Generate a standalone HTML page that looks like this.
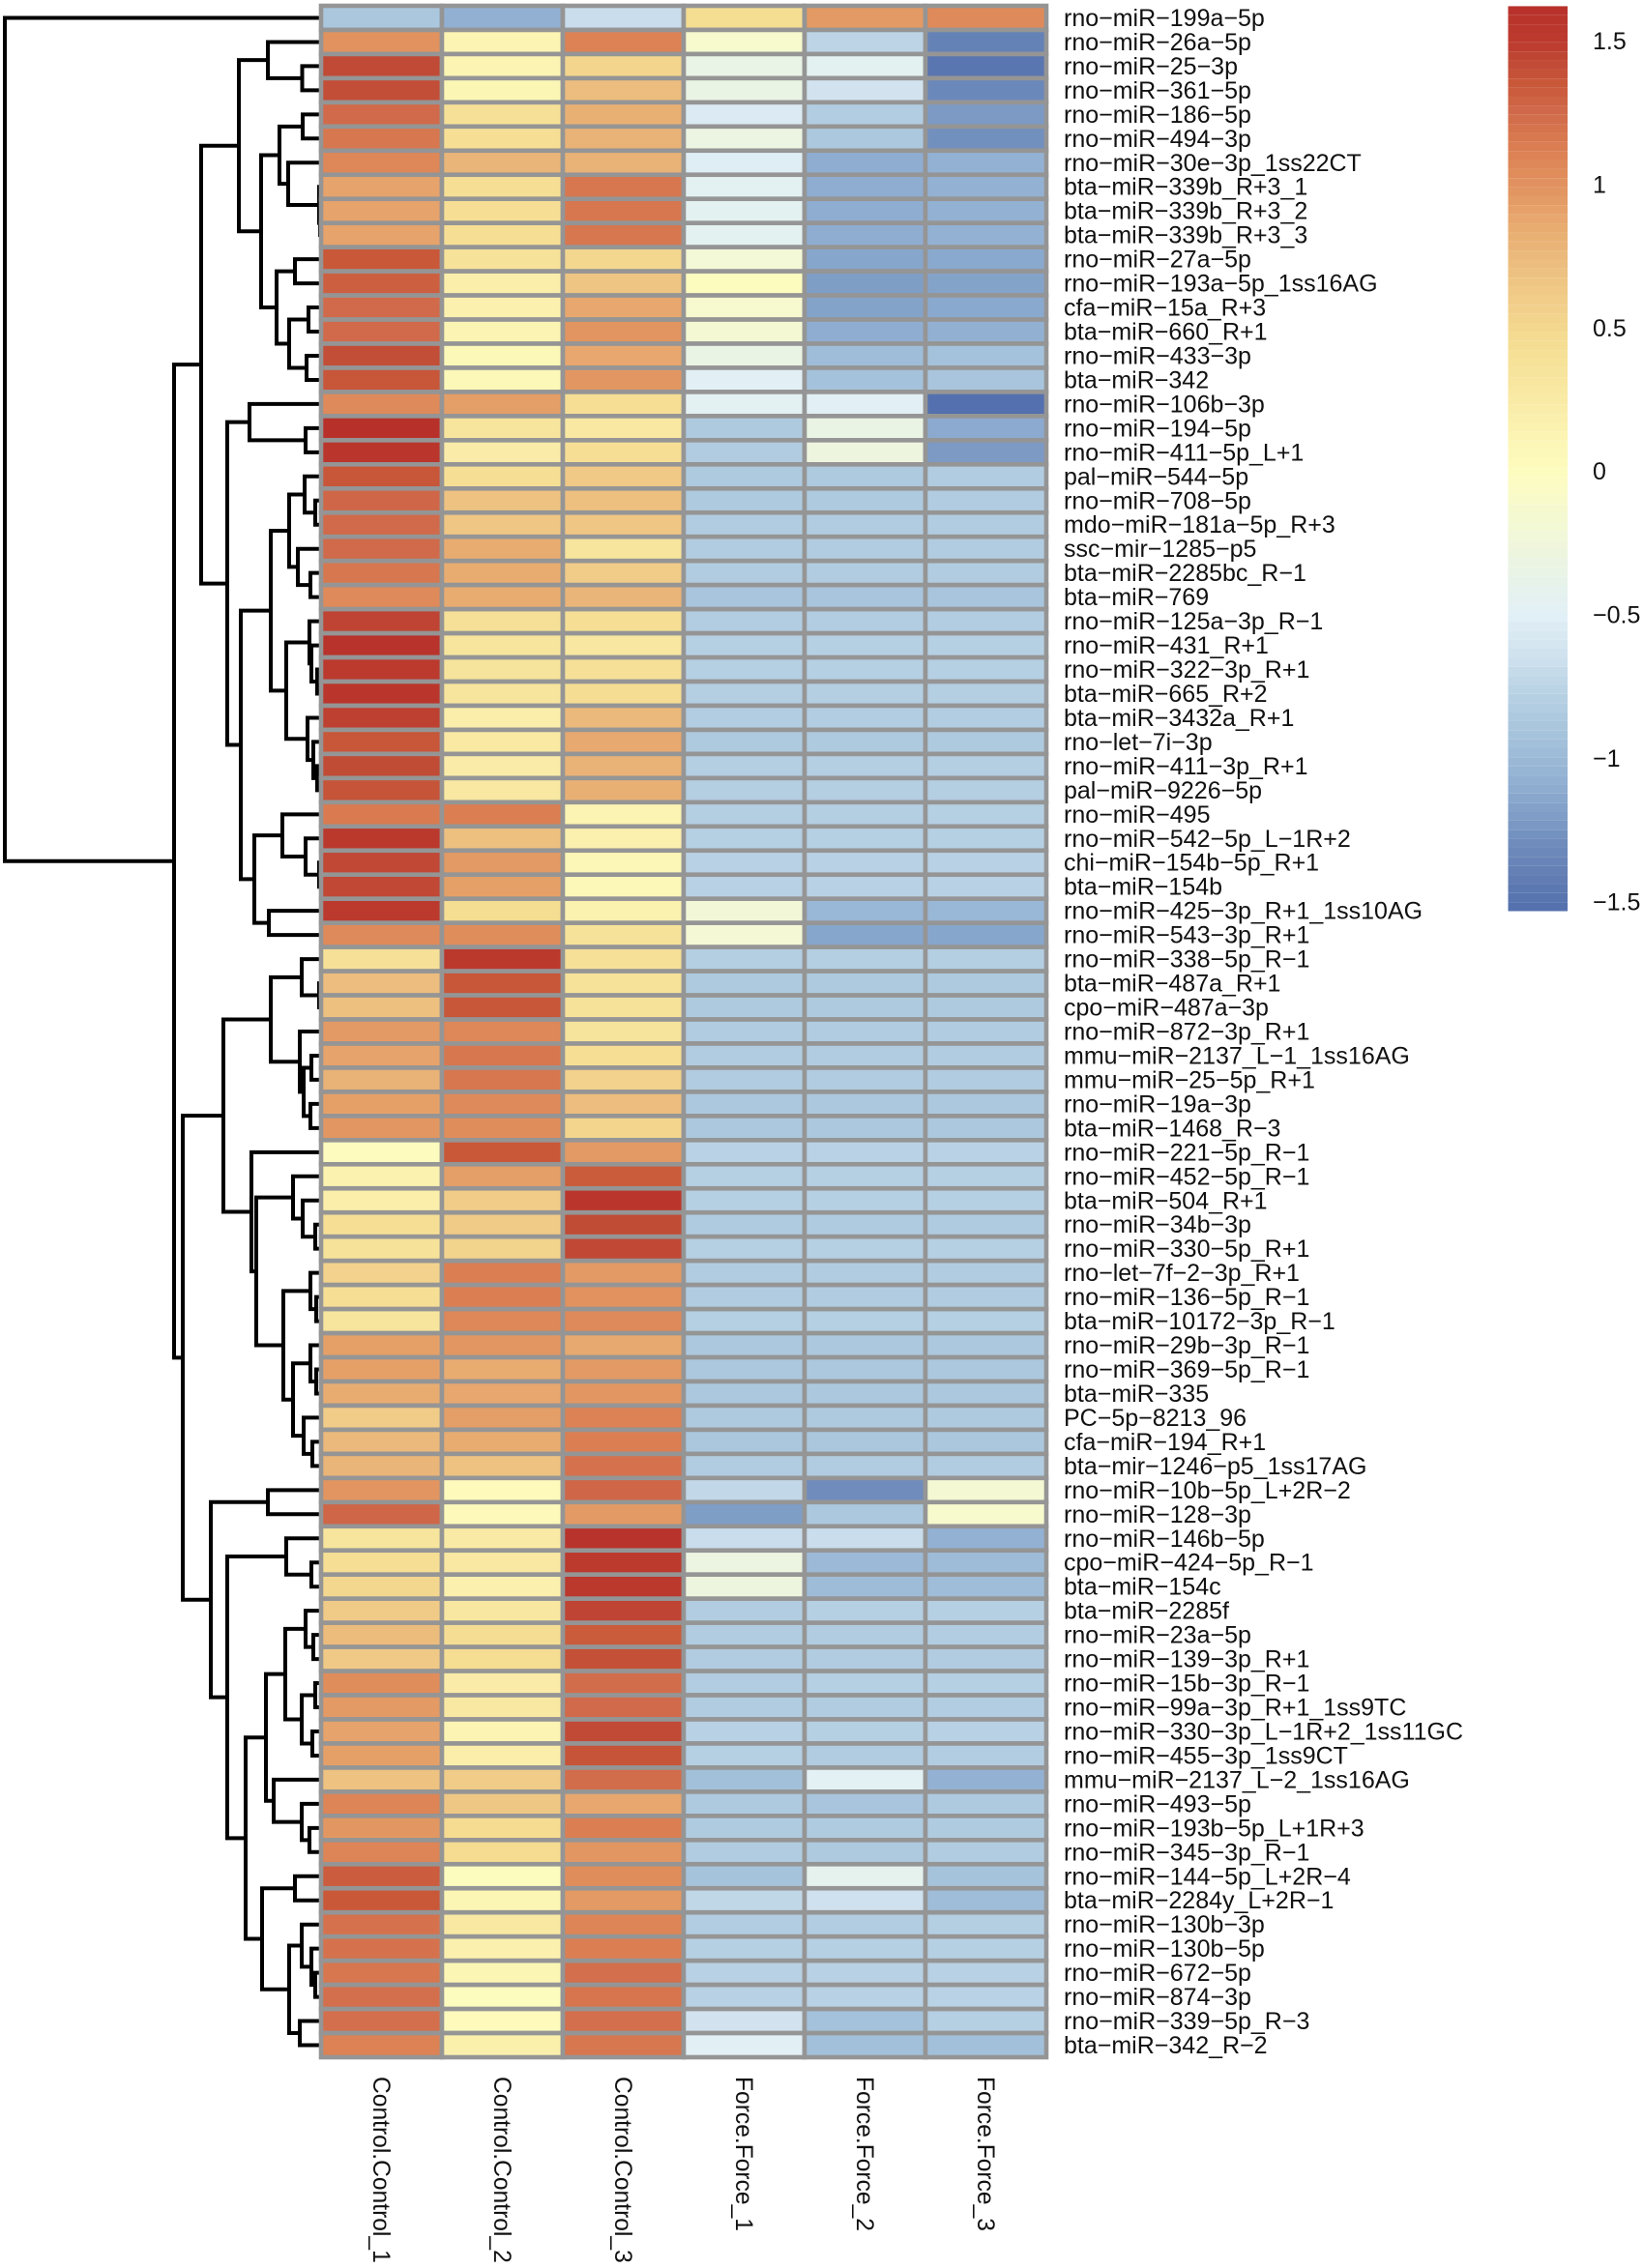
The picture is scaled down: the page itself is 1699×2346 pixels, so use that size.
<!DOCTYPE html>
<html lang="en">
<head>
<meta charset="utf-8">
<title>miRNA expression heatmap</title>
<style>
html,body{margin:0;padding:0;background:#fff;}
svg{display:block;}
text{font-family:"Liberation Sans",Arial,sans-serif;fill:#111;}
</style>
</head>
<body>
<svg id="chart" xmlns="http://www.w3.org/2000/svg" width="1699" height="2346" viewBox="0 0 1699 2346">
<rect x="0" y="0" width="1699" height="2346" fill="#ffffff"/>
<g id="dendrogram"></g>
<g id="cells"></g>
<g id="rowLabelsG"></g>
<g id="colLabelsG"></g>
<g id="legendG"></g>
</svg>
<script>
const columnLabels = ["Control.Control_1","Control.Control_2","Control.Control_3","Force.Force_1","Force.Force_2","Force.Force_3"];
const rowLabels = [
"rno−miR−199a−5p","rno−miR−26a−5p","rno−miR−25−3p","rno−miR−361−5p","rno−miR−186−5p","rno−miR−494−3p","rno−miR−30e−3p_1ss22CT","bta−miR−339b_R+3_1","bta−miR−339b_R+3_2","bta−miR−339b_R+3_3",
"rno−miR−27a−5p","rno−miR−193a−5p_1ss16AG","cfa−miR−15a_R+3","bta−miR−660_R+1","rno−miR−433−3p","bta−miR−342","rno−miR−106b−3p","rno−miR−194−5p","rno−miR−411−5p_L+1","pal−miR−544−5p",
"rno−miR−708−5p","mdo−miR−181a−5p_R+3","ssc−mir−1285−p5","bta−miR−2285bc_R−1","bta−miR−769","rno−miR−125a−3p_R−1","rno−miR−431_R+1","rno−miR−322−3p_R+1","bta−miR−665_R+2","bta−miR−3432a_R+1",
"rno−let−7i−3p","rno−miR−411−3p_R+1","pal−miR−9226−5p","rno−miR−495","rno−miR−542−5p_L−1R+2","chi−miR−154b−5p_R+1","bta−miR−154b","rno−miR−425−3p_R+1_1ss10AG","rno−miR−543−3p_R+1","rno−miR−338−5p_R−1",
"bta−miR−487a_R+1","cpo−miR−487a−3p","rno−miR−872−3p_R+1","mmu−miR−2137_L−1_1ss16AG","mmu−miR−25−5p_R+1","rno−miR−19a−3p","bta−miR−1468_R−3","rno−miR−221−5p_R−1","rno−miR−452−5p_R−1","bta−miR−504_R+1",
"rno−miR−34b−3p","rno−miR−330−5p_R+1","rno−let−7f−2−3p_R+1","rno−miR−136−5p_R−1","bta−miR−10172−3p_R−1","rno−miR−29b−3p_R−1","rno−miR−369−5p_R−1","bta−miR−335","PC−5p−8213_96","cfa−miR−194_R+1",
"bta−mir−1246−p5_1ss17AG","rno−miR−10b−5p_L+2R−2","rno−miR−128−3p","rno−miR−146b−5p","cpo−miR−424−5p_R−1","bta−miR−154c","bta−miR−2285f","rno−miR−23a−5p","rno−miR−139−3p_R+1","rno−miR−15b−3p_R−1",
"rno−miR−99a−3p_R+1_1ss9TC","rno−miR−330−3p_L−1R+2_1ss11GC","rno−miR−455−3p_1ss9CT","mmu−miR−2137_L−2_1ss16AG","rno−miR−493−5p","rno−miR−193b−5p_L+1R+3","rno−miR−345−3p_R−1","rno−miR−144−5p_L+2R−4","bta−miR−2284y_L+2R−1","rno−miR−130b−3p",
"rno−miR−130b−5p","rno−miR−672−5p","rno−miR−874−3p","rno−miR−339−5p_R−3","bta−miR−342_R−2"];
const expressionValues = [
[-.88,-1.08,-.68,.45,.95,1.05],
[1,.12,1.1,-.12,-.75,-1.38],
[1.42,.12,.52,-.35,-.45,-1.48],
[1.4,.1,.72,-.33,-.63,-1.33],
[1.25,.4,.82,-.55,-.82,-1.22],
[1.17,.42,.8,-.3,-.87,-1.28],
[1.07,.78,.8,-.52,-1.1,-1.07],
[.9,.42,1.17,-.47,-1.1,-1.07],
[.9,.42,1.17,-.45,-1.1,-1.07],
[.9,.42,1.17,-.45,-1.1,-1.07],
[1.35,.38,.5,-.2,-1.15,-1.13],
[1.31,.2,.66,0,-1.2,-1.17],
[1.25,.17,.88,-.13,-1.17,-1.13],
[1.25,.13,.98,-.17,-1.1,-1.08],
[1.4,.07,.88,-.33,-.97,-.93],
[1.36,.07,.97,-.5,-.93,-.9],
[1.05,.93,.42,-.47,-.5,-1.53],
[1.62,.33,.28,-.85,-.33,-1.12],
[1.55,.22,.42,-.83,-.28,-1.22],
[1.36,.42,.63,-.85,-.85,-.83],
[1.27,.68,.7,-.85,-.85,-.83],
[1.25,.65,.65,-.83,-.83,-.83],
[1.25,.85,.33,-.83,-.83,-.83],
[1.17,.85,.6,-.83,-.83,-.83],
[1.05,.85,.78,-.9,-.9,-.9],
[1.45,.4,.42,-.82,-.82,-.82],
[1.6,.33,.3,-.79,-.79,-.79],
[1.52,.35,.4,-.8,-.8,-.8],
[1.55,.33,.43,-.81,-.81,-.81],
[1.47,.2,.75,-.82,-.82,-.82],
[1.36,.27,.87,-.85,-.85,-.85],
[1.41,.22,.8,-.81,-.81,-.81],
[1.37,.28,.82,-.81,-.81,-.81],
[1.15,1.12,.13,-.81,-.81,-.8],
[1.53,.7,.17,-.8,-.8,-.8],
[1.43,.95,.08,-.78,-.78,-.78],
[1.43,.92,.07,-.78,-.78,-.78],
[1.52,.45,.15,-.22,-1.02,-1.02],
[1.05,1.03,.38,-.18,-1.15,-1.15],
[.4,1.53,.4,-.81,-.81,-.81],
[.72,1.36,.38,-.85,-.85,-.85],
[.7,1.36,.37,-.85,-.85,-.85],
[.95,1.07,.35,-.83,-.83,-.83],
[.9,1.17,.42,-.83,-.83,-.83],
[.8,1.17,.55,-.83,-.83,-.83],
[.92,1.05,.72,-.87,-.87,-.87],
[.97,1.03,.52,-.87,-.87,-.87],
[.02,1.35,.95,-.77,-.77,-.77],
[.15,.93,1.33,-.8,-.8,-.8],
[.2,.6,1.55,-.79,-.79,-.79],
[.42,.62,1.41,-.84,-.84,-.84],
[.38,.53,1.43,-.8,-.8,-.8],
[.55,1.12,.95,-.83,-.83,-.83],
[.42,1.12,1,-.83,-.83,-.83],
[.33,1.07,1.05,-.8,-.8,-.8],
[.92,.97,.87,-.87,-.87,-.87],
[.92,.85,.95,-.87,-.87,-.87],
[.85,.88,.97,-.87,-.87,-.87],
[.6,.93,1.1,-.85,-.85,-.85],
[.75,.85,1.12,-.88,-.88,-.88],
[.78,.68,1.2,-.83,-.83,-.83],
[.98,.03,1.27,-.72,-1.3,-.17],
[1.27,.05,.95,-1.2,-.87,-.12],
[.33,.25,1.6,-.68,-.68,-1.07],
[.42,.28,1.52,-.3,-1,-.98],
[.5,.17,1.53,-.28,-.98,-.97],
[.62,.3,1.45,-.82,-.8,-.79],
[.73,.43,1.33,-.83,-.83,-.82],
[.63,.45,1.39,-.83,-.83,-.83],
[1.03,.22,1.23,-.82,-.8,-.8],
[.95,.28,1.25,-.83,-.83,-.82],
[.9,.12,1.42,-.78,-.79,-.78],
[.92,.2,1.37,-.8,-.83,-.82],
[.68,.6,1.23,-.95,-.48,-1.07],
[1.08,.64,.88,-.85,-.9,-.85],
[.97,.46,1.12,-.84,-.84,-.84],
[1.08,.46,.97,-.83,-.85,-.83],
[1.32,0,1.03,-.92,-.42,-.92],
[1.35,.1,.95,-.73,-.65,-.97],
[1.2,.28,1.08,-.82,-.82,-.81],
[1.2,.17,1.12,-.79,-.8,-.79],
[1.17,.1,1.22,-.78,-.78,-.78],
[1.22,0,1.18,-.78,-.78,-.77],
[1.22,.03,1.22,-.63,-.93,-.8],
[1.1,.18,1.17,-.5,-.95,-.95]
];
const legendTicks = [1.5,1,0.5,0,-0.5,-1,-1.5];
const legendTickLabels = ["1.5","1","0.5","0","−0.5","−1","−1.5"];
const paletteValues = [-1.53,-1.45,-1.3,-1.2,-1.1,-.95,-.85,-.75,-.65,-.5,-.35,-.2,0,.1,.25,.45,.62,.75,.87,.95,1.05,1.15,1.25,1.35,1.42,1.5,1.62];
const paletteColors = ["#5470ae","#5d79b1","#6f8cbc","#7f9ec6","#8fadd1","#a2c0da","#aecadf","#bcd4e6","#cfe1ee","#e2f0f6","#e9f3e6","#f3f8d6","#fdfcbf","#fcf6b5","#f9eaa5","#f5dd92","#f0ca87","#ebb97b","#e7a96f","#e39a64","#df8a5a","#d97a50","#d06a4a","#c95839","#c04a36","#bc3a2e","#b7312a"];
const legendRange = [-1.534, 1.62];
/* Row dendrogram: [merge height, left child, right child]; a bare number is a row (1-based). */
const dendrogramTree = [32.7,1,[15.2,
 [12.4,
  [8.5,
   [5.5,2,[1.95,3,4]],
   [6.2,
    [4.3,[1.9,5,6],[3.4,7,[.2,8,[.1,9,10]]]],
    [4.6,[2.7,11,12],[3.3,[1.3,13,14],[1.5,15,16]]]]],
  [9.7,
   [7.4,17,[1.6,18,19]],
   [8.3,
    [5.2,
     [3.3,[1.7,20,[.6,21,22]],[2.4,23,[1.1,24,25]]],
     [3.6,[1.2,26,[1,27,[.4,28,29]]],[1.4,30,[.8,31,[.4,32,33]]]]],
    [6.9,[4,34,[1.6,35,[.2,36,37]]],[5.4,38,39]]]]],
 [14.3,
  [10.1,
   [5.2,[2,40,[.2,41,42]],[2.2,43,[1.8,[1,44,45],[1.1,46,47]]]],
   [7.2,48,[6.7,
     [2.9,49,[1.9,50,[.6,51,52]]],
     [3.9,[1.1,53,[.5,54,55]],[2.9,[1.1,56,[.5,57,58]],[1.8,59,[.9,60,61]]]]]]],
  [11.4,
   [5.5,62,63],
   [9.7,
    [3.6,64,[1,65,66]],
    [7.8,
     [5.7,
      [3.7,[1.6,67,[.8,68,69]],[2,[.6,70,71],[.9,72,73]]],
      [4.9,74,[2,75,[1.2,76,77]]]],
     [6.1,[2.7,78,79],[3.3,[2,80,[1,81,[.6,82,83]]],[2.2,84,85]]]]]]]]];

const NS = "http://www.w3.org/2000/svg";
const gridLeft = 332, gridRight = 1082, gridTop = 6, gridBottom = 2128;
const colW = (gridRight - gridLeft) / columnLabels.length;
const rowH = (gridBottom - gridTop) / rowLabels.length;
const legendLeft = 1559.5, legendWidth = 61.5, legendTop = 6.4, legendBottom = 942.5;
function xCol(i){ return gridLeft + i * colW; }
function yRow(i){ return gridTop + i * rowH; }
function xDist(d){ return gridLeft - d * 10; }
function yLegend(v){ return legendBottom - (v - legendRange[0]) / (legendRange[1] - legendRange[0]) * (legendBottom - legendTop); }
function hexRgb(h){ return [parseInt(h.slice(1,3),16),parseInt(h.slice(3,5),16),parseInt(h.slice(5,7),16)]; }
function colorFor(v){
  const n = paletteValues.length;
  if (v <= paletteValues[0]) return paletteColors[0];
  if (v >= paletteValues[n-1]) return paletteColors[n-1];
  for (let i = 1; i < n; i++) {
    if (v <= paletteValues[i]) {
      const t = (v - paletteValues[i-1]) / (paletteValues[i] - paletteValues[i-1]);
      const a = hexRgb(paletteColors[i-1]), b = hexRgb(paletteColors[i]);
      return "rgb(" + a.map((c,k) => Math.round(c + (b[k]-c)*t)).join(",") + ")";
    }
  }
}
function make(tag, parent){
  const el = document.createElementNS(NS, tag);
  parent.appendChild(el);
  return el;
}

/* dendrogram */
const dendroG = document.getElementById("dendrogram");
function drawNode(node){
  if (typeof node === "number") return { x: xDist(0), y: yRow(node - 1) + rowH / 2 };
  const a = drawNode(node[1]), b = drawNode(node[2]);
  const x = xDist(node[0]), y = (a.y + b.y) / 2;
  const p = make("path", dendroG);
  
  
  p.setAttribute("d", "M" + a.x + " " + a.y + "H" + x + "V" + b.y + "H" + b.x);
  p.setAttribute("fill", "none");
  p.setAttribute("stroke", "#000");
  p.setAttribute("stroke-width", "4");
  p.setAttribute("stroke-linejoin", "miter");
  return { x: x, y: y };
}
drawNode(dendrogramTree);

/* cells */
const cellsG = document.getElementById("cells");
expressionValues.forEach(function(row, r){
  row.forEach(function(v, c){
    const cell = make("rect", cellsG);
    
    
    cell.setAttribute("x", xCol(c));
    cell.setAttribute("y", yRow(r));
    cell.setAttribute("width", colW);
    cell.setAttribute("height", rowH);
    cell.setAttribute("fill", colorFor(v));
    cell.setAttribute("stroke", "#959595");
    cell.setAttribute("stroke-width", "4.6");
  });
});

/* row labels */
const rowG = document.getElementById("rowLabelsG");
rowLabels.forEach(function(s, r){
  const t = make("text", rowG);
  
  
  t.setAttribute("x", 1100);
  t.setAttribute("y", yRow(r) + rowH / 2 + 8.5);
  t.setAttribute("font-size", "25");
  t.textContent = s;
});

/* column labels */
const colG = document.getElementById("colLabelsG");
columnLabels.forEach(function(s, c){
  const t = make("text", colG);
  const cx = xCol(c) + colW / 2 - 8.5;
  
  
  t.setAttribute("x", cx);
  t.setAttribute("y", 2148);
  t.setAttribute("font-size", "24.6");
  t.setAttribute("transform", "rotate(90 " + cx + " 2148)");
  t.textContent = s;
});

/* legend */
const legG = document.getElementById("legendG");
const legendSteps = 100;
for (let i = 0; i < legendSteps; i++) {
  const v0 = legendRange[0] + (legendRange[1] - legendRange[0]) * i / legendSteps;
  const v1 = legendRange[0] + (legendRange[1] - legendRange[0]) * (i + 1) / legendSteps;
  const s = make("rect", legG);
  
  
  s.setAttribute("x", legendLeft);
  s.setAttribute("y", yLegend(v1));
  s.setAttribute("width", legendWidth);
  s.setAttribute("height", yLegend(v0) - yLegend(v1));
  s.setAttribute("fill", colorFor((v0 + v1) / 2));
}
legendTicks.forEach(function(v, i){
  const t = make("text", legG);
  
  
  t.setAttribute("x", 1647);
  t.setAttribute("y", yLegend(v) + 9);
  t.setAttribute("font-size", "25");
  t.textContent = legendTickLabels[i];
});
</script>
</body>
</html>
